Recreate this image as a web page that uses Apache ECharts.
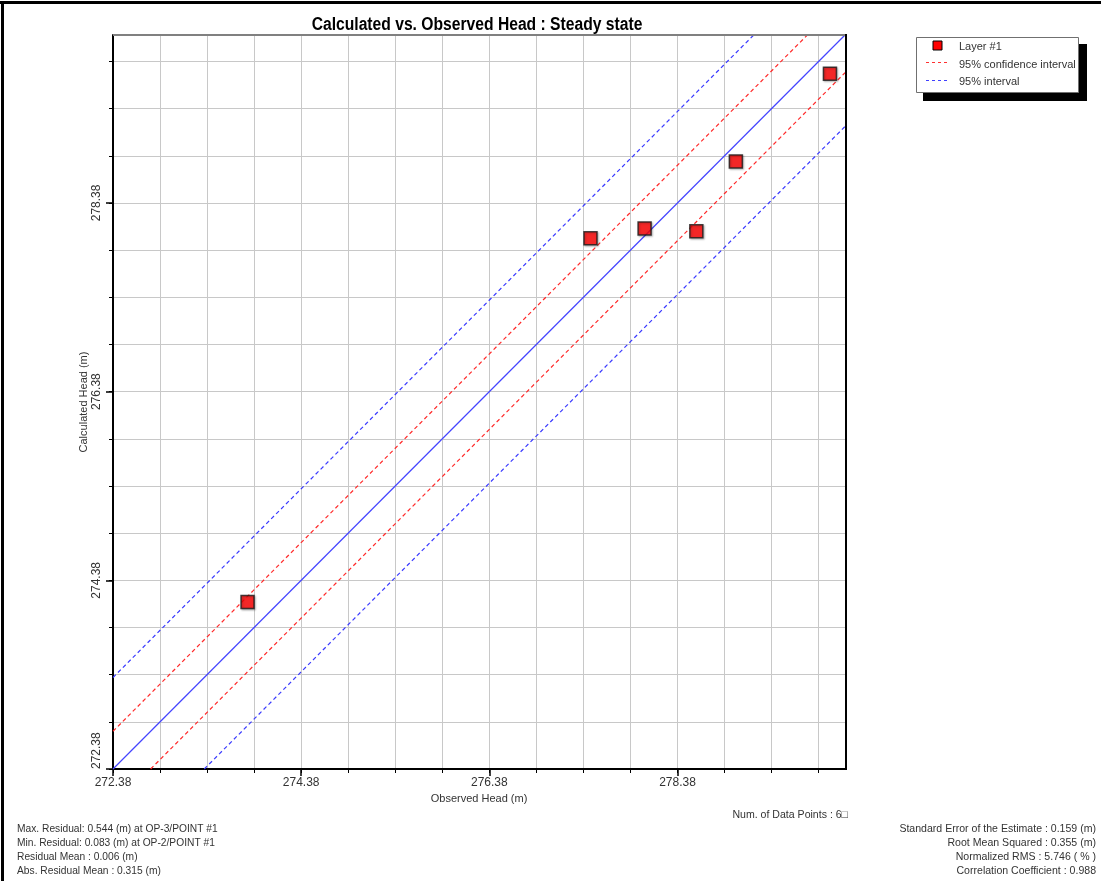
<!DOCTYPE html>
<html>
<head>
<meta charset="utf-8">
<script src="https://cdn.jsdelivr.net/npm/echarts@6/dist/echarts.min.js"></script>
<style>
html,body{margin:0;padding:0;background:#fff;}
#chart{width:1101px;height:881px;}
</style>
</head>
<body>
<div id="chart"></div>
<script>
// ---- data ----
const observedHead   = [273.81, 277.455, 278.03, 278.58, 279.00, 280.00];
const calculatedHead = [274.15, 278.005, 278.11, 278.08, 278.82, 279.75];
const tickLabels = ['272.38', '274.38', '276.38', '278.38'];
const axisMin = 272.38;
const axisMax = 280.16;
const minorStep = 0.5;
const confidenceOffset = 0.40;   // 95% confidence interval half-width
const intervalOffset = 0.97;     // 95% interval half-width
const statsLeft = [
  'Max. Residual: 0.544 (m) at OP-3/POINT #1',
  'Min. Residual: 0.083 (m) at OP-2/POINT #1',
  'Residual Mean : 0.006 (m)',
  'Abs. Residual Mean : 0.315 (m)'
];
const statsRight = [
  'Standard Error of the Estimate : 0.159 (m)',
  'Root Mean Squared : 0.355 (m)',
  'Normalized RMS : 5.746 ( % )',
  'Correlation Coefficient : 0.988'
];
const numPointsText = 'Num. of Data Points : 6\u25A1';
const titleText = 'Calculated vs. Observed Head : Steady state';

// ---- derived ----
const labelValues = tickLabels.map(Number);
const tickValues = [];
for (let v = axisMin; v <= axisMax + 1e-9; v += minorStep) tickValues.push(+v.toFixed(2));
const scatterData = observedHead.map((x, i) => [x, calculatedHead[i]]);
// straight line y = x + off, cut to the plot square
const lineThrough = (off) => off >= 0
  ? [[axisMin, axisMin + off], [axisMax - off, axisMax]]
  : [[axisMin - off, axisMin], [axisMax, axisMax + off]];

const font = '"Liberation Sans", Arial, sans-serif';
const txtColor = '#333';

function mainAxis(isX) {
  return {
    type: 'value', min: axisMin, max: axisMax, gridIndex: 0,
    position: isX ? 'bottom' : 'left',
    name: isX ? 'Observed Head (m)' : 'Calculated Head (m)',
    nameLocation: 'middle',
    nameGap: isX ? 24 : 24,
    nameRotate: isX ? 0 : 90,
    nameMoveOverlap: false,
    nameTextStyle: {fontFamily: font, fontSize: 11, color: txtColor},
    axisLine: {show: true, onZero: false, lineStyle: {color: '#000', width: 2}},
    axisTick: {show: true, customValues: tickValues, length: 4, inside: false, lineStyle: {color: '#000', width: 1}},
    axisLabel: {show: true, customValues: labelValues, margin: isX ? 8 : 10, rotate: isX ? 0 : 90,
      alignMinLabel: isX ? 'center' : 'left',
      fontFamily: font, fontSize: 12, color: txtColor, formatter: v => v.toFixed(2)},
    splitLine: {show: true, lineStyle: {color: '#c8c8c8', width: 1}}
  };
}
function majorAxis(isX) {
  return {
    type: 'value', min: axisMin, max: axisMax, gridIndex: 0,
    position: isX ? 'bottom' : 'left',
    axisLine: {show: false, onZero: false},
    axisTick: {show: true, customValues: labelValues, length: 7, lineStyle: {color: '#000', width: 1.5}},
    axisLabel: {show: false},
    splitLine: {show: false}
  };
}

const chart = echarts.init(document.getElementById('chart'), null, {renderer: 'canvas'});
const dash = [4, 3];
const lineSeries = (name, data, color, type) => ({
  type: 'line', name, data, symbol: 'none', showSymbol: false, clip: false,
  itemStyle: {color}, lineStyle: {color, width: 1.2, type}, emphasis: {disabled: true}, z: 3
});
const statText = (t, x, y, align, sx) => ({
  type: 'text', x, y, scaleX: sx, silent: true,
  style: {text: t, fill: txtColor, font: '11px ' + font, textAlign: align, textVerticalAlign: 'middle'}
});
chart.setOption({
  animation: false,
  backgroundColor: '#fff',
  grid: {left: 113, top: 35, width: 732, height: 734, show: false, containLabel: false},
  xAxis: [mainAxis(true), majorAxis(true)],
  yAxis: [mainAxis(false), majorAxis(false)],
  series: [
    lineSeries('1:1', lineThrough(0), '#4444ff', 'solid'),
    lineSeries('95% confidence interval', lineThrough(confidenceOffset), '#ff2a2a', dash),
    lineSeries('95% confidence interval (lower)', lineThrough(-confidenceOffset), '#ff2a2a', dash),
    lineSeries('95% interval', lineThrough(intervalOffset), '#3a3aff', dash),
    lineSeries('95% interval (lower)', lineThrough(-intervalOffset), '#3a3aff', dash),
    {type: 'scatter', name: 'Layer #1', data: scatterData, symbol: 'rect', symbolSize: 13,
      itemStyle: {color: '#ff0000', borderColor: '#1a1a1a', borderWidth: 1.5, shadowColor: 'rgba(0,0,0,0.3)', shadowBlur: 2, shadowOffsetX: 1, shadowOffsetY: 1}, z: 5}
  ],
  graphic: [
    // title
    {type: 'text', x: 477, y: 25, scaleX: 0.87, silent: true,
      style: {text: titleText, fill: '#000', font: 'bold 18px ' + font, textAlign: 'center', textVerticalAlign: 'middle'}},
    // outer frame (top and left)
    {type: 'rect', shape: {x: 0, y: 1, width: 1101, height: 3}, style: {fill: '#000'}, silent: true},
    {type: 'rect', shape: {x: 1, y: 1, width: 3, height: 880}, style: {fill: '#000'}, silent: true},
    // plot top border (grey) and right border (black)
    {type: 'rect', shape: {x: 113, y: 34, width: 733, height: 2}, style: {fill: '#808080'}, silent: true, z: 10},
    {type: 'rect', shape: {x: 845, y: 34, width: 2, height: 736}, style: {fill: '#000'}, silent: true, z: 10},
    // legend
    {type: 'rect', shape: {x: 923, y: 44, width: 164, height: 57}, style: {fill: '#000'}, silent: true},
    {type: 'rect', shape: {x: 916.5, y: 37.5, width: 162, height: 55}, style: {fill: '#fff', stroke: '#707070', lineWidth: 1}, silent: true},
    {type: 'rect', shape: {x: 933, y: 41, width: 9, height: 9}, style: {fill: '#ff0000', stroke: '#000', lineWidth: 1}, silent: true},
    {type: 'line', shape: {x1: 926, y1: 62.5, x2: 948, y2: 62.5}, style: {stroke: '#ff3030', lineWidth: 1, lineDash: [3, 3]}, silent: true},
    {type: 'line', shape: {x1: 926, y1: 80.5, x2: 948, y2: 80.5}, style: {stroke: '#4040ff', lineWidth: 1, lineDash: [3, 3]}, silent: true},
    {type: 'text', x: 959, y: 47, style: {text: 'Layer #1', fill: txtColor, font: '11px ' + font, textVerticalAlign: 'middle'}, silent: true},
    {type: 'text', x: 959, y: 65, style: {text: '95% confidence interval', fill: txtColor, font: '11px ' + font, textVerticalAlign: 'middle'}, silent: true},
    {type: 'text', x: 959, y: 82, style: {text: '95% interval', fill: txtColor, font: '11px ' + font, textVerticalAlign: 'middle'}, silent: true},
    // stats
    statText(numPointsText, 848, 815, 'right', 0.96),
    ...statsLeft.map((t, i) => statText(t, 17, 829 + i * 14, 'left', 0.93)),
    ...statsRight.map((t, i) => statText(t, 1096, 829 + i * 14, 'right', 0.96))
  ]
});
</script>
</body>
</html>
